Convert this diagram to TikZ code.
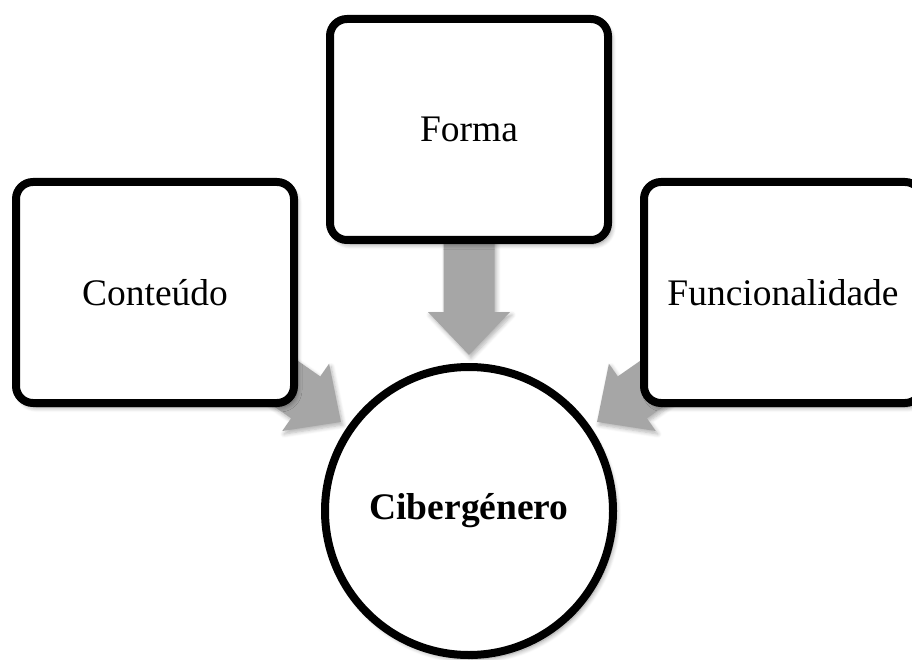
\documentclass[tikz,border=0pt]{standalone}
\usepackage{fontspec}
\setmainfont{Liberation Serif}
\usetikzlibrary{calc,backgrounds,shadows.blur}
\definecolor{arrowgray}{RGB}{166,166,166}

\tikzset{
  softshadow/.style={blur shadow={shadow xshift=3pt, shadow yshift=-4pt,
      shadow blur radius=5pt, shadow blur steps=8, shadow opacity=45}},
  topicbox/.style={draw=black, line width=8pt, rounded corners=17pt, fill=white,
      minimum width=278pt, minimum height=221pt, inner sep=0pt,
      font=\fontsize{37.5}{44}\selectfont, softshadow},
  hub/.style={circle, draw=black, line width=8pt, fill=white,
      minimum size=288pt, inner sep=0pt,
      font=\fontsize{37.5}{44}\selectfont\bfseries, softshadow},
  fat/.style={fill=arrowgray, blur shadow={shadow xshift=2pt, shadow yshift=-3pt,
      shadow blur radius=4pt, shadow blur steps=6, shadow opacity=30}}
}

% broad grey arrow from a source node towards the hub, tip just outside it
\newcommand\fatarrow[2]{%
  \coordinate (t#2) at ($(cib.center)!156pt!(#1.center)$);
  \coordinate (h#2) at ($(t#2)!43pt!(#1.center)$);
  \coordinate (s#2) at ($(t#2)!180pt!(#1.center)$);
  \fill[fat] (t#2) -- ($(h#2)!41pt!90:(t#2)$) -- ($(h#2)!25.5pt!90:(t#2)$)
    -- ($(s#2)!25.5pt!90:(t#2)$) -- ($(s#2)!25.5pt!-90:(t#2)$)
    -- ($(h#2)!25.5pt!-90:(t#2)$) -- ($(h#2)!41pt!-90:(t#2)$) -- cycle;
}

\begin{document}
\begin{tikzpicture}[x=1pt, y=-1pt]
  \useasboundingbox (0,0) rectangle (912,660);
  \clip (0,0) rectangle (912,660);

  \node[topicbox] (cont) at (155,292.5) {Conteúdo};
  \node[topicbox] (forma) at (469,129.5) {Forma};
  \node[topicbox] (func) at (783,292.5) {Funcionalidade};
  \node[hub] (cib) at (469,511) {Cibergénero};

  \begin{scope}[on background layer]
    \fatarrow{cont}{L}
    \fatarrow{forma}{T}
    \fatarrow{func}{R}
  \end{scope}
\end{tikzpicture}
\end{document}
